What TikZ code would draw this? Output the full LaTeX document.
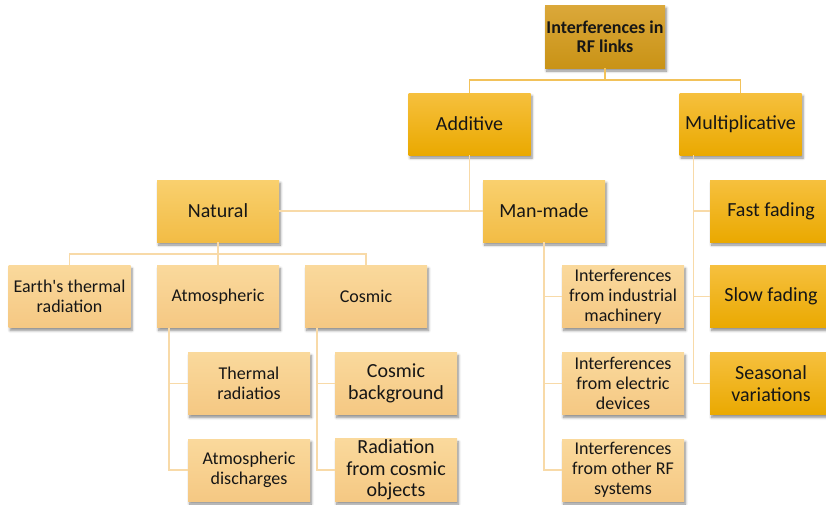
\documentclass[tikz,border=0pt]{standalone}
\usepackage{fontspec}
\setmainfont{Carlito}[Ligatures=TeXOff]
\usetikzlibrary{shadows.blur}
\definecolor{rootTop}{HTML}{DBA83A}
\definecolor{rootBot}{HTML}{C99316}
\definecolor{lvlTwoTop}{HTML}{F6C03E}
\definecolor{lvlTwoBot}{HTML}{EAA900}
\definecolor{lvlThreeTop}{HTML}{F9D06E}
\definecolor{lvlThreeBot}{HTML}{F2BC45}
\definecolor{leafTop}{HTML}{FAD99C}
\definecolor{leafBot}{HTML}{F5C883}
\definecolor{topLine}{HTML}{F2C25A}
\definecolor{subLine}{HTML}{F8DAA8}
\definecolor{txt}{HTML}{161616}
\tikzset{
  box/.style={minimum width=122pt, minimum height=62pt, inner sep=1pt,
    align=center, text=txt,
    blur shadow={shadow xshift=1.5pt, shadow yshift=-3pt, shadow blur steps=6,
      shadow opacity=45, shadow blur radius=2.5pt}},
  rootbox/.style={box, minimum width=120pt, minimum height=63pt,
    top color=rootTop, bottom color=rootBot,
    font=\fontsize{18}{19.5}\selectfont\bfseries},
  majorbox/.style={box, top color=lvlTwoTop, bottom color=lvlTwoBot,
    font=\fontsize{20}{21.5}\selectfont},
  midbox/.style={box, top color=lvlThreeTop, bottom color=lvlThreeBot,
    font=\fontsize{20}{22}\selectfont},
  leafbox/.style={box, top color=leafTop, bottom color=leafBot,
    font=\fontsize{18}{20}\selectfont},
  bigleaf/.style={leafbox, font=\fontsize{20}{21.5}\selectfont},
  rootlink/.style={draw=topLine, line width=1.6pt},
  sublink/.style={draw=subLine, line width=1.6pt},
}
\begin{document}
\begin{tikzpicture}[x=1pt,y=-1pt]
\useasboundingbox (0,0) rectangle (826,504);
\clip (0,0) rectangle (826,504);

% tree nodes
\node[rootbox]  (root)  at (605,36.5) {Interferences in\\RF links};
\node[majorbox] (add)   at (469.5,124) {Additive};
\node[majorbox] (mult)  at (740.5,124) {Multiplicative};
\node[midbox]   (nat)   at (218,211) {Natural};
\node[midbox]   (man)   at (544,211) {Man-made};
\node[majorbox] (fast)  at (771,211) {Fast fading};
\node[majorbox] (slow)  at (771,296.5) {Slow fading};
\node[majorbox] (seas)  at (771,383.5) {Seasonal\\variations};
\node[leafbox]  (earth) at (69.5,296.5) {Earth's thermal\\radiation};
\node[leafbox]  (atm)   at (218,296.5) {Atmospheric};
\node[leafbox]  (cos)   at (366,296.5) {Cosmic};
\node[leafbox]  (therm) at (249,383.5) {Thermal\\radiatios};
\node[leafbox]  (disch) at (249,470) {Atmospheric\\discharges};
\node[bigleaf]  (cbg)   at (396,383.5) {Cosmic\\background};
\node[bigleaf]  (rad)   at (396,470) {Radiation\\from cosmic\\objects};
\node[leafbox]  (ind)   at (623,296.5) {Interferences\\from industrial\\machinery};
\node[leafbox]  (elec)  at (623,383.5) {Interferences\\from electric\\devices};
\node[leafbox]  (other) at (623,470) {Interferences\\from other RF\\systems};

% connectors
\draw[rootlink] (root.south) -- ++(0,12) coordinate (rj);
\draw[rootlink] (rj) -| (add.north);
\draw[rootlink] (rj) -| (mult.north);

\draw[sublink] (add.south) -- (add.south |- nat.east);
\draw[sublink] (nat.east) -- (man.west);

\draw[sublink] (nat.south) -- ++(0,12) coordinate (nj);
\draw[sublink] (nj) -| (earth.north);
\draw[sublink] (nj) -| (cos.north);
\draw[sublink] (nj) -- (atm.north);

\coordinate (aj) at ([xshift=12pt]atm.south west);
\draw[sublink] (aj) |- (disch.west);
\draw[sublink] (aj |- therm.west) -- (therm.west);

\coordinate (cj) at ([xshift=12pt]cos.south west);
\draw[sublink] (cj) |- (rad.west);
\draw[sublink] (cj |- cbg.west) -- (cbg.west);

\draw[sublink] (man.south) |- (other.west);
\draw[sublink] (man.south |- ind.west) -- (ind.west);
\draw[sublink] (man.south |- elec.west) -- (elec.west);

\coordinate (mj) at ([xshift=14pt]mult.south west);
\draw[sublink] (mj) |- (seas.west);
\draw[sublink] (mj |- fast.west) -- (fast.west);
\draw[sublink] (mj |- slow.west) -- (slow.west);
\end{tikzpicture}
\end{document}
